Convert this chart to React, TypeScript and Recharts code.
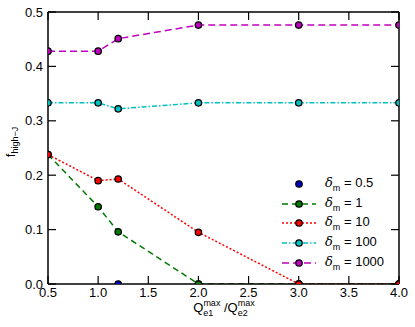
import { LineChart, Line, XAxis, YAxis, Legend } from 'recharts';

const xValues = [0.5, 1.0, 1.2, 2.0, 3.0, 4.0];
const delta05 = [null, null, 0, 0, 0, 0];
const delta1 = [0.238, 0.142, 0.096, 0, 0, 0];
const delta10 = [0.238, 0.19, 0.193, 0.095, 0, 0];
const delta100 = [0.333, 0.333, 0.322, 0.333, 0.333, 0.333];
const delta1000 = [0.428, 0.428, 0.451, 0.476, 0.476, 0.476];

const xTicks = [0.5, 1.0, 1.5, 2.0, 2.5, 3.0, 3.5, 4.0];
const yTicks = [0, 0.1, 0.2, 0.3, 0.4, 0.5];

const FONT = '"Liberation Sans", Arial, Helvetica, sans-serif';

// the last series is bound to the mirrored top/right axes so they get ticks
const series = [
  { key: 'd05', label: '0.5', values: delta05, color: '#0000cc', dash: '', line: false, mirror: false },
  { key: 'd1', label: '1', values: delta1, color: '#007a00', dash: '6 4', line: true, mirror: false },
  { key: 'd10', label: '10', values: delta10, color: '#ff0000', dash: '2 2', line: true, mirror: false },
  { key: 'd100', label: '100', values: delta100, color: '#00c0c0', dash: '5 2 1.5 2', line: true, mirror: false },
  { key: 'd1000', label: '1000', values: delta1000, color: '#bf00bf', dash: '7 4', line: true, mirror: true },
];

const data = xValues.map((x, i) => {
  const row: Record<string, number | null> = { x };
  series.forEach((s) => {
    row[s.key] = s.values[i];
  });
  return row;
});

const tickStyle = { fill: '#000', fontSize: 13, fontFamily: FONT };

const YTitle = () => (
  <text x={15} y={142} transform="rotate(-90 15 142)" textAnchor="middle" fontFamily={FONT} fontSize={13} fill="#000">
    f<tspan fontSize={9} dy={3}>high−J</tspan>
  </text>
);

const XTitle = () => (
  <text x={224} y={312} textAnchor="middle" fontFamily={FONT} fontSize={13} fill="#000">
    Q<tspan fontSize={9} dy={4}>e1</tspan>
    <tspan fontSize={9} dx={-10} dy={-10}>max</tspan>
    <tspan dy={6}> /Q</tspan>
    <tspan fontSize={9} dy={4}>e2</tspan>
    <tspan fontSize={9} dx={-10} dy={-10}>max</tspan>
  </text>
);

const LegendBox = () => (
  <div style={{ fontFamily: FONT, fontSize: 13, color: '#000' }}>
    {series.map((s) => (
      <div key={s.key} style={{ display: 'flex', alignItems: 'center', height: 19.7 }}>
        <svg width={34} height={12} style={{ display: 'block' }}>
          {s.line && (
            <line x1={0} y1={6} x2={34} y2={6} stroke={s.color} strokeWidth={1.5} strokeDasharray={s.dash} />
          )}
          <circle cx={17} cy={6} r={3.2} fill={s.color} stroke="#000" strokeWidth={1.3} />
        </svg>
        <span style={{ marginLeft: 9 }}>
          <i style={{ fontFamily: '"DejaVu Serif", serif' }}>δ</i>
          <sub style={{ fontSize: 9 }}>m</sub> = {s.label}
        </span>
      </div>
    ))}
  </div>
);

export default function App() {
  return (
    <div style={{ position: 'fixed', left: 0, top: 0, width: 415, height: 327, background: '#fff' }}>
      <LineChart width={415} height={327} data={data} margin={{ top: 11, right: 15, bottom: 0, left: 0 }}>
        <XAxis
          dataKey="x"
          type="number"
          domain={[0.5, 4]}
          ticks={xTicks}
          tickFormatter={(v: number) => v.toFixed(1)}
          allowDataOverflow
          height={43}
          tickSize={-8}
          tickMargin={12}
          tick={tickStyle}
          tickLine={{ stroke: '#000', strokeWidth: 1.2 }}
          axisLine={{ stroke: '#000', strokeWidth: 1.5 }}
          label={{ content: () => <XTitle /> }}
        />
        <XAxis
          xAxisId="top"
          dataKey="x"
          type="number"
          orientation="top"
          domain={[0.5, 4]}
          ticks={xTicks}
          tickFormatter={() => ''}
          allowDataOverflow
          height={1}
          tickSize={-8}
          tick={tickStyle}
          tickLine={{ stroke: '#000', strokeWidth: 1.2 }}
          axisLine={{ stroke: '#000', strokeWidth: 1.5 }}
        />
        <YAxis
          type="number"
          domain={[0, 0.5]}
          ticks={yTicks}
          tickFormatter={(v: number) => v.toFixed(1)}
          allowDataOverflow
          width={48}
          tickSize={-8}
          tickMargin={13}
          tick={tickStyle}
          tickLine={{ stroke: '#000', strokeWidth: 1.2 }}
          axisLine={{ stroke: '#000', strokeWidth: 1.5 }}
          label={{ content: () => <YTitle /> }}
        />
        <YAxis
          yAxisId="right"
          type="number"
          orientation="right"
          domain={[0, 0.5]}
          ticks={yTicks}
          tickFormatter={() => ''}
          allowDataOverflow
          width={1}
          tickSize={-8}
          tick={tickStyle}
          tickLine={{ stroke: '#000', strokeWidth: 1.2 }}
          axisLine={{ stroke: '#000', strokeWidth: 1.5 }}
        />
        {series.map((s) => (
          <Line
            key={s.key}
            dataKey={s.key}
            xAxisId={s.mirror ? 'top' : 0}
            yAxisId={s.mirror ? 'right' : 0}
            stroke={s.line ? s.color : 'none'}
            strokeWidth={1.5}
            strokeDasharray={s.dash || undefined}
            dot={{ r: 3.2, fill: s.color, stroke: '#000', strokeWidth: 1.3, strokeDasharray: '' }}
            isAnimationActive={false}
            legendType="none"
          />
        ))}
        <Legend
          layout="vertical"
          align="center"
          verticalAlign="middle"
          content={() => <LegendBox />}
          wrapperStyle={{ left: 282, top: 174, width: 130 }}
        />
      </LineChart>
    </div>
  );
}
